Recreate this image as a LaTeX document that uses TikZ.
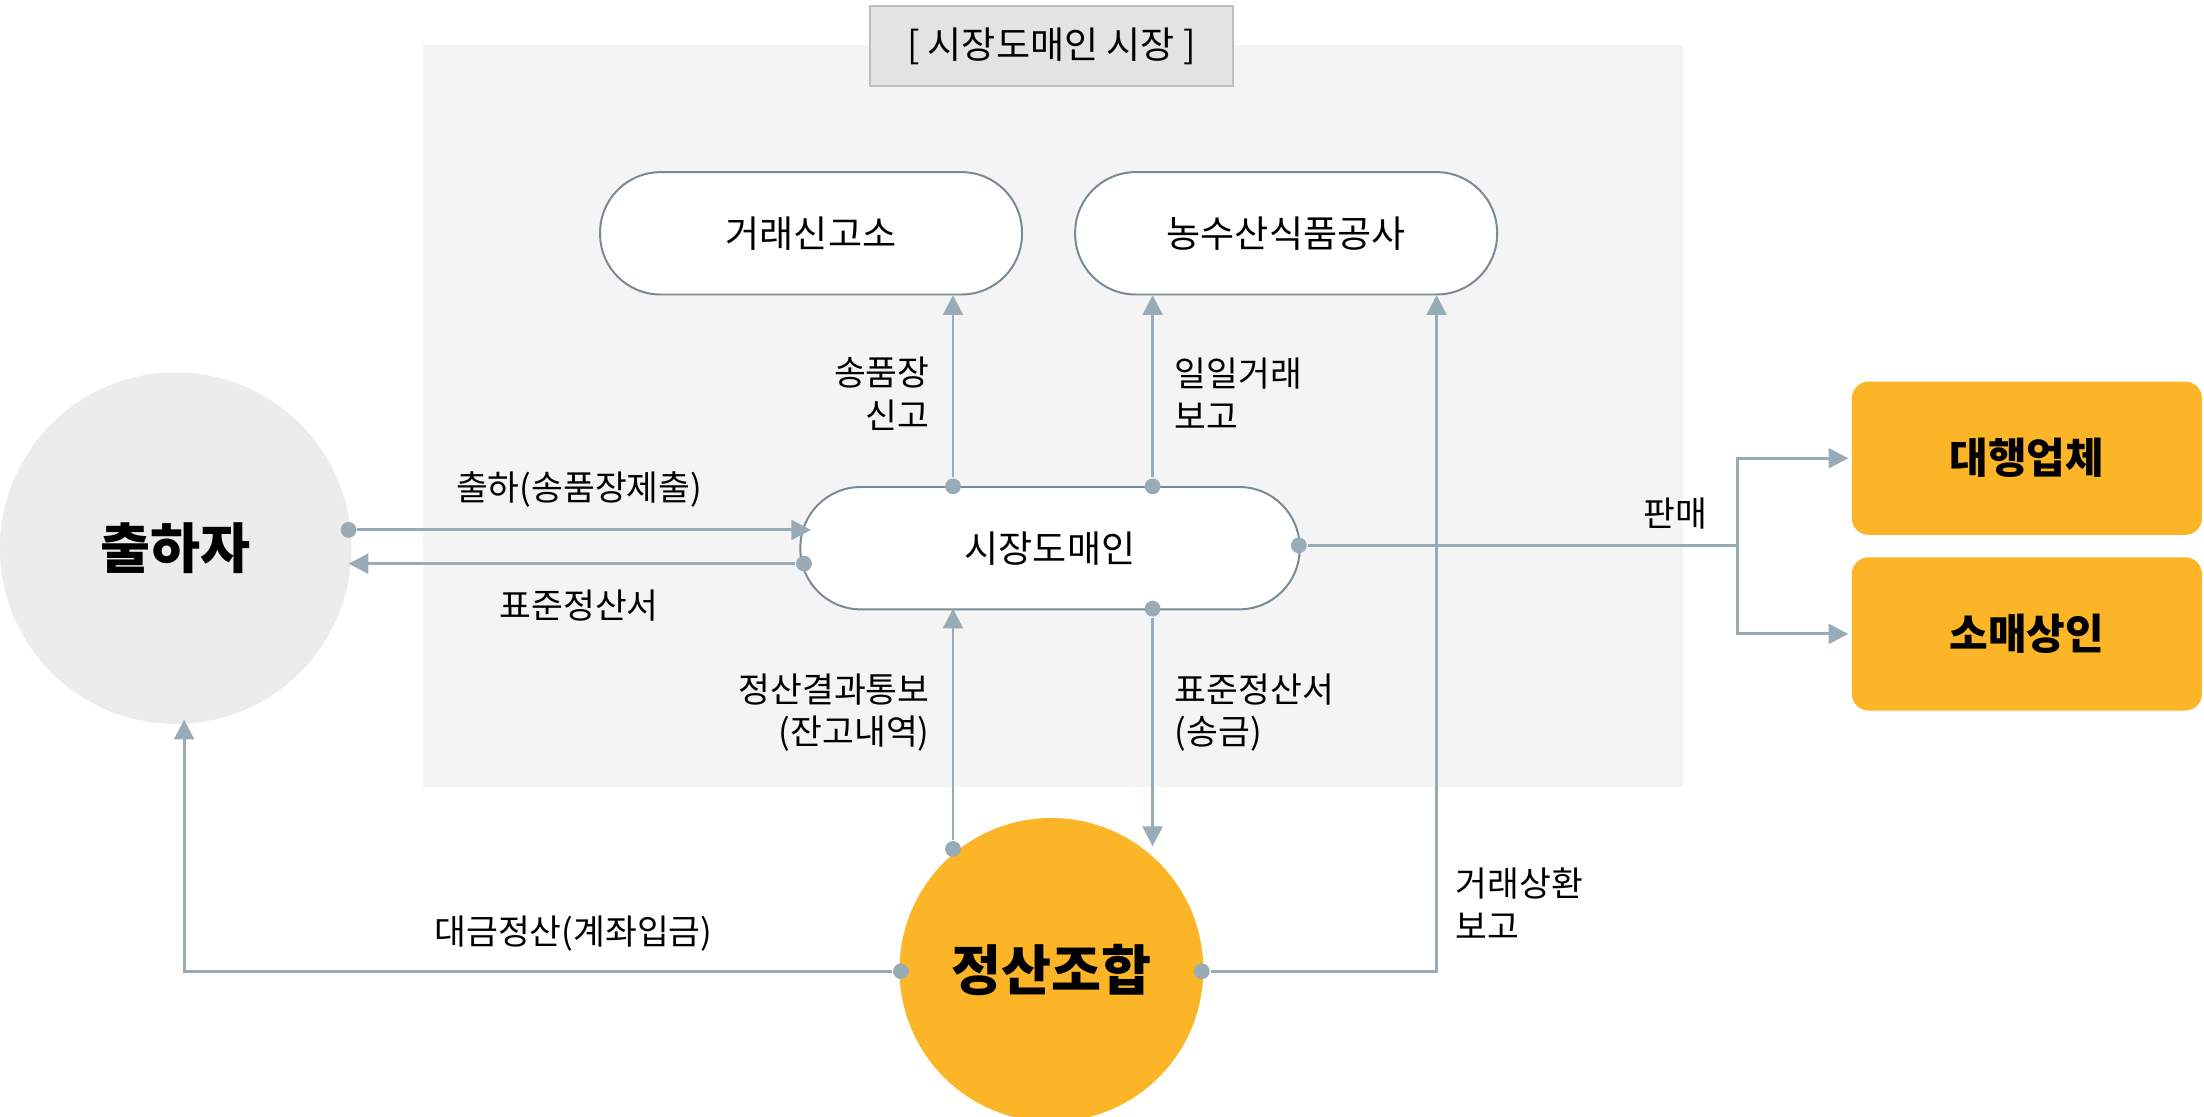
\documentclass[tikz,border=0pt]{standalone}
\usepackage{fontspec}
\setmainfont{Noto Sans CJK KR}
\usetikzlibrary{arrows.meta,patterns}
\definecolor{ln}{HTML}{9AABB8}
\definecolor{org}{HTML}{FBB526}
\tikzset{
 con/.style={draw=ln,line width=0.6pt,-{Triangle[length=4pt,width=4pt]}},
 dot/.style={circle,fill=ln,inner sep=0pt,minimum size=3.2pt},
 pill/.style={draw=ln!80!black,fill=white,rounded corners=0.43cm,minimum width=3cm,minimum height=0.87cm,font=\fontsize{7.5}{9}\selectfont},
 obox/.style={fill=org,rounded corners=0.12cm,minimum width=2.49cm,minimum height=1.09cm,font=\fontsize{8.5}{10}\selectfont\bfseries},
 lab/.style={font=\fontsize{7}{8.6}\selectfont,inner sep=0pt}
}
\begin{document}
\begin{tikzpicture}[x=0.01cm,y=-0.01cm]
\useasboundingbox (0,0) rectangle (1568,794);
\fill[gray!9] (301,32) rectangle (1197,560);
\node[draw=gray!50,fill=gray!22,minimum width=2.58cm,minimum height=0.57cm,font=\fontsize{7.5}{9}\selectfont] (title) at (748,33) {[ 시장도매인 시장 ]};
\node[pill] (sin) at (577,166) {거래신고소};
\node[pill] (nong) at (915,166) {농수산식품공사};
\node[pill,minimum width=3.55cm] (dm) at (747,390) {시장도매인};
\node[circle,fill=gray!15,minimum size=2.5cm,font=\fontsize{11}{13}\selectfont\bfseries] (ch) at (125,390) {출하자};
\node[circle,fill=org,minimum size=2.16cm,font=\fontsize{11}{13}\selectfont\bfseries] (jj) at (748,690) {정산조합};
\node[obox] (dh) at (1442,326) {대행업체};
\node[obox] (sm) at (1442,451) {소매상인};
% dots
\node[dot] (d1) at (678,346) {}; \node[dot] (d2) at (820,346) {};
\node[dot] (d3) at (248,377) {}; \node[dot] (d4) at (572,401) {};
\node[dot] (d5) at (678,604) {}; \node[dot] (d6) at (820,433) {};
\node[dot] (d7) at (924,388) {}; \node[dot] (d8) at (641,691) {};
\node[dot] (d9) at (855,691) {};
\coordinate (a1) at (678,210); \coordinate (a2) at (820,210);
\coordinate (a3) at (577,377); \coordinate (a4) at (248,401);
\coordinate (a5) at (678,433); \coordinate (a6) at (820,602);
\coordinate (s) at (1236,388);
\coordinate (a8) at (131,512); \coordinate (a9) at (1022,210);
\draw[con] (d1) -- (a1); \draw[con] (d2) -- (a2);
\draw[con] (d3) -- (a3); \draw[con] (d4) -- (a4);
\draw[con] (d5) -- (a5); \draw[con] (d6) -- (a6);
\draw[draw=ln,line width=0.6pt] (d7) -- (s);
\draw[con] (s) |- (1315,326); \draw[con] (s) |- (1315,451);
\draw[con] (d8) -| (a8); \draw[con] (d9) -| (a9);
% labels
\node[lab,align=right,anchor=east] at (662,280) {송품장\\신고};
\node[lab,align=left,anchor=west] at (835,280) {일일거래\\보고};
\node[lab] at (412,348) {출하(송품장제출)};
\node[lab] at (412,431) {표준정산서};
\node[lab,align=right,anchor=east] at (662,507) {정산결과통보\\(잔고내역)};
\node[lab,align=left,anchor=west] at (835,507) {표준정산서\\(송금)};
\node[lab] at (1192,365) {판매};
\node[lab] at (408,664) {대금정산(계좌입금)};
\node[lab,align=left,anchor=west] at (1035,643) {거래상환\\보고};
\end{tikzpicture}
\end{document}
